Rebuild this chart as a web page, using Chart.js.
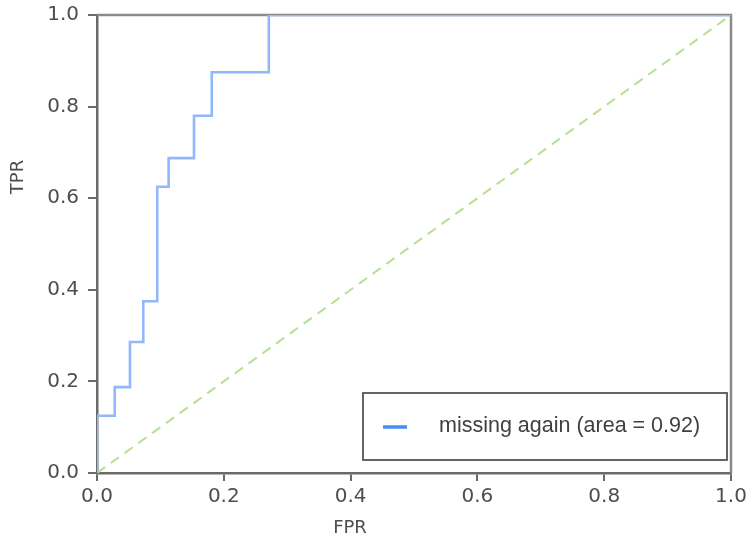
<!DOCTYPE html>
<html>
<head>
<meta charset="utf-8">
<script src="https://cdn.jsdelivr.net/npm/chart.js@4.4.1/dist/chart.umd.min.js"></script>
<style>
  html, body { margin: 0; padding: 0; background: #fff; }
  #wrap { width: 749px; height: 542px; }
</style>
</head>
<body>
<div id="wrap"><canvas id="roc" width="749" height="542"></canvas></div>
<script>
// Curva ROC (esquinas del escalón)
const fpr = [0, 0, 0.028, 0.028, 0.052, 0.052, 0.073, 0.073, 0.095, 0.095, 0.113, 0.113, 0.153, 0.153, 0.181, 0.181, 0.271, 0.271, 1];
const tpr = [0, 0.125, 0.125, 0.1875, 0.1875, 0.286, 0.286, 0.375, 0.375, 0.625, 0.625, 0.6875, 0.6875, 0.78, 0.78, 0.875, 0.875, 1, 1];
const chanceX = [0, 1];
const chanceY = [0, 1];
const ticks = [0, 0.2, 0.4, 0.6, 0.8, 1.0];
const serieLabel = 'missing again (area = 0.92)';

const COLOR = {
  curva: '#90b8fb',
  leyenda: '#4a8cf7',
  azar: '#b4e08f',
  eje: '#6a6a6a',
  texto: '#4e4e4e',
};

// Marco superior/derecho + títulos de ejes + leyenda tipo matplotlib
const marco = {
  id: 'marco',
  beforeDatasetsDraw(chart) {
    const { ctx, chartArea: a } = chart;
    ctx.save();
    ctx.strokeStyle = '#8a8a8a';
    ctx.lineWidth = 2.5;
    ctx.beginPath();
    ctx.moveTo(a.left, a.top);
    ctx.lineTo(a.right, a.top);
    ctx.lineTo(a.right, a.bottom);
    ctx.stroke();
    ctx.restore();
  },
  afterDraw(chart) {
    const { ctx, chartArea: a } = chart;
    ctx.save();
    ctx.fillStyle = COLOR.texto;
    ctx.font = "18px 'DejaVu Sans'";
    ctx.textAlign = 'center';
    ctx.textBaseline = 'middle';
    ctx.fillText('FPR', 350, 528);
    ctx.translate(18, 177);
    ctx.rotate(-Math.PI / 2);
    ctx.fillText('TPR', 0, 0);
    ctx.restore();

    // leyenda
    ctx.save();
    const bx = a.right - 368, by = a.bottom - 80, bw = 364, bh = 67;
    ctx.fillStyle = '#fff';
    ctx.fillRect(bx, by, bw, bh);
    ctx.strokeStyle = '#555';
    ctx.lineWidth = 1.8;
    ctx.strokeRect(bx, by, bw, bh);
    ctx.strokeStyle = COLOR.leyenda;
    ctx.lineWidth = 3.5;
    ctx.beginPath();
    ctx.moveTo(bx + 20, by + 34);
    ctx.lineTo(bx + 44, by + 34);
    ctx.stroke();
    ctx.fillStyle = '#404040';
    ctx.font = "21.5px 'Liberation Sans', Arial, sans-serif";
    ctx.textBaseline = 'middle';
    ctx.fillText(serieLabel, bx + 76, by + 33);
    ctx.restore();
  },
};

new Chart(document.getElementById('roc'), {
  type: 'line',
  data: {
    datasets: [
      {
        label: serieLabel,
        data: fpr.map((x, i) => ({ x, y: tpr[i] })),
        borderColor: COLOR.curva,
        borderWidth: 2.6,
        pointRadius: 0,
        tension: 0,
        fill: false,
      },
      {
        label: 'azar',
        data: chanceX.map((x, i) => ({ x, y: chanceY[i] })),
        borderColor: COLOR.azar,
        borderWidth: 2,
        borderDash: [10, 7],
        pointRadius: 0,
        fill: false,
      },
    ],
  },
  options: {
    responsive: false,
    animation: false,
    layout: { padding: { top: 15, right: 18, left: 0, bottom: 0 } },
    plugins: { legend: { display: false }, tooltip: { enabled: false } },
    scales: {
      x: {
        type: 'linear', min: 0, max: 1,
        afterBuildTicks: (s) => { s.ticks = ticks.map((v) => ({ value: v })); },
        afterFit: (s) => { s.height = 69; s.paddingLeft = 0; s.paddingRight = 0; },
        grid: { display: true, drawOnChartArea: false, drawTicks: true, tickLength: 8, color: COLOR.eje, lineWidth: 2 },
        border: { display: true, color: COLOR.eje, width: 2.5 },
        ticks: {
          color: COLOR.texto, padding: 4,
          font: { family: 'DejaVu Sans', size: 20 },
          callback: (v) => Number(v).toFixed(1),
          maxRotation: 0,
        },
      },
      y: {
        type: 'linear', min: 0, max: 1,
        afterBuildTicks: (s) => { s.ticks = ticks.map((v) => ({ value: v })); },
        afterFit: (s) => { s.width = 97; s.paddingTop = 0; s.paddingBottom = 0; },
        grid: { display: true, drawOnChartArea: false, drawTicks: true, tickLength: 9, color: COLOR.eje, lineWidth: 2 },
        border: { display: true, color: COLOR.eje, width: 2.5 },
        ticks: {
          color: COLOR.texto, padding: 9,
          font: { family: 'DejaVu Sans', size: 20 },
          callback: (v) => Number(v).toFixed(1),
        },
      },
    },
  },
  plugins: [marco],
});
</script>
</body>
</html>
